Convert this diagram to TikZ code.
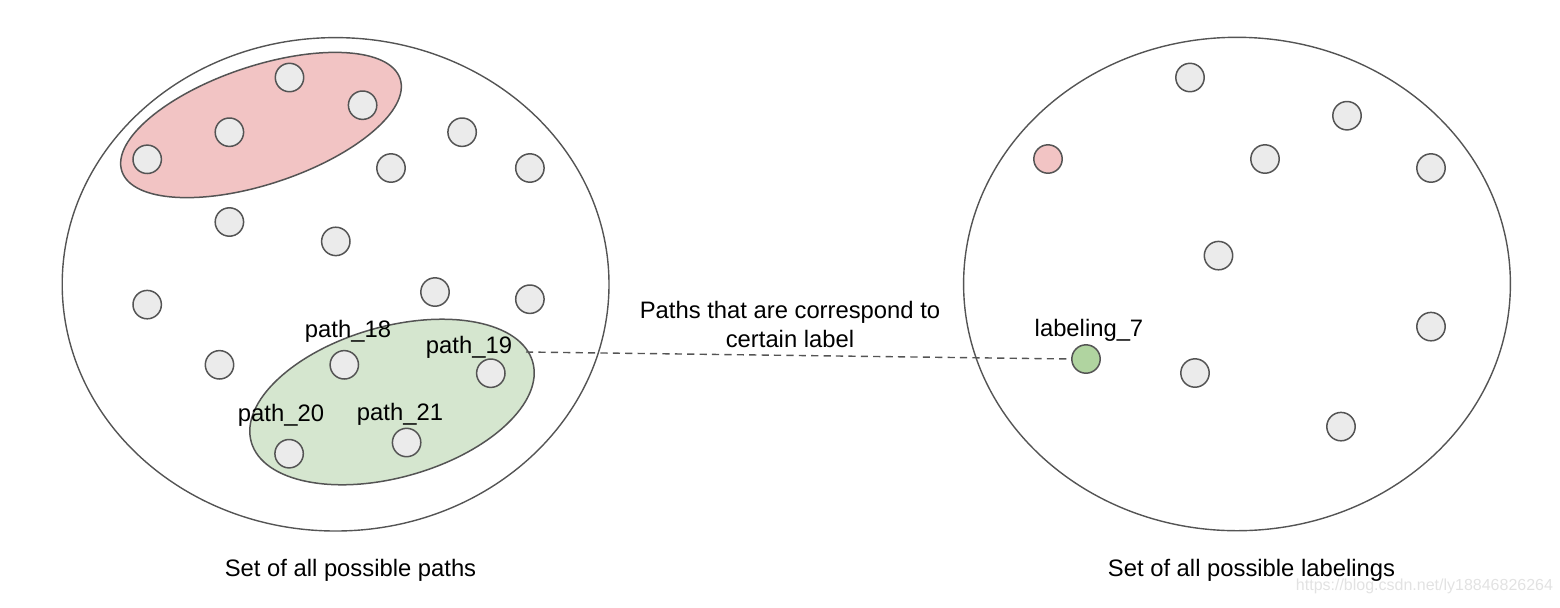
\documentclass[tikz,border=0pt]{standalone}
\usepackage{fontspec}
\setmainfont{Liberation Sans}
\usetikzlibrary{shapes.geometric}
\definecolor{edge}{HTML}{545454}
\definecolor{dotfill}{HTML}{EBEBEB}
\definecolor{pinkfill}{HTML}{F2C4C4}
\definecolor{greenset}{HTML}{D5E6CF}
\definecolor{greendot}{HTML}{B0D4A0}
\definecolor{wmark}{HTML}{E2E2E2}
\tikzset{
  bigset/.style={draw=edge, line width=0.7pt, ellipse, inner sep=0pt,
    minimum width=273.4pt, minimum height=246.7pt},
  subset/.style={draw=edge, line width=0.75pt, ellipse, inner sep=0pt},
  dot/.style={draw=edge, line width=0.75pt, circle, fill=dotfill, inner sep=0pt,
    minimum size=14.2pt},
  lbl/.style={font=\fontsize{11.9}{14.5}\selectfont, inner sep=0pt, anchor=base},
  link/.style={draw=edge, line width=0.7pt, dash pattern=on 3.6pt off 2.6pt},
}
\begin{document}
\begin{tikzpicture}[x=0.5pt, y=-0.5pt]
\useasboundingbox (0,0) rectangle (1560,607);
% big sets
\node[bigset] (pathset) at (335.6,284.3) {};
\node[bigset] (labelset) at (1237,284) {};
% subsets
\node[subset, fill=pinkfill, minimum width=293.2pt*0.5, minimum height=118pt*0.5, rotate=18.4] (pinkgroup) at (261,125) {};
\node[subset, fill=greenset, minimum width=292.6pt*0.5, minimum height=150.6pt*0.5, rotate=15.9] (greengroup) at (392,402) {};
% left dots
\node[dot] (l1) at (289.5,77.5) {};
\node[dot] (l2) at (362.6,105.2) {};
\node[dot] (l3) at (229.4,132.2) {};
\node[dot] (l4) at (147.2,159.3) {};
\node[dot] (l5) at (462.1,132.2) {};
\node[dot] (l6) at (391,168) {};
\node[dot] (l7) at (529.9,168) {};
\node[dot] (l8) at (229.4,222) {};
\node[dot] (l9) at (335.8,241.4) {};
\node[dot] (l10) at (147.2,304.6) {};
\node[dot] (l11) at (435,292) {};
\node[dot] (l12) at (529.9,299.2) {};
\node[dot] (l13) at (219.5,364.8) {};
\node[dot] (p18) at (344.3,364.8) {};
\node[dot] (p19) at (490.8,373.2) {};
\node[dot] (p20) at (289.1,453.7) {};
\node[dot] (p21) at (406.6,442.5) {};
% right dots
\node[dot] (r1) at (1190,77.5) {};
\node[dot] (r2) at (1347,115.7) {};
\node[dot, fill=pinkfill] (r3) at (1048,159) {};
\node[dot] (r4) at (1265,159) {};
\node[dot] (r5) at (1431,168) {};
\node[dot] (r6) at (1218.5,255.6) {};
\node[dot] (r7) at (1431,326.6) {};
\node[dot, fill=greendot] (lab7) at (1086,359) {};
\node[dot] (r9) at (1195,373) {};
\node[dot] (r10) at (1341,426.6) {};
% labels
\node[lbl] (t18) at (348,337) {path\_18};
\node[lbl] (t19) at (469,353) {path\_19};
\node[lbl] (t20) at (281,421.5) {path\_20};
\node[lbl] (t21) at (400,420) {path\_21};
\node[lbl] (t7) at (1089,336.5) {labeling\_7};
\node[lbl] (cap1) at (790,318) {Paths that are correspond to};
\node[lbl] (cap2) at (790,347) {certain label};
\node[lbl] (setl) at (350.5,576) {Set of all possible paths};
\node[lbl] (setr) at (1251.5,576) {Set of all possible labelings};
\node[font=\fontsize{8}{9}\selectfont, text=wmark, inner sep=0pt, anchor=base] (wm) at (1424.5,590) {https://blog.csdn.net/ly18846826264};
% connector
\coordinate (linkstart) at (526,352);
\draw[link] (linkstart) -- (lab7.west);
\end{tikzpicture}
\end{document}
